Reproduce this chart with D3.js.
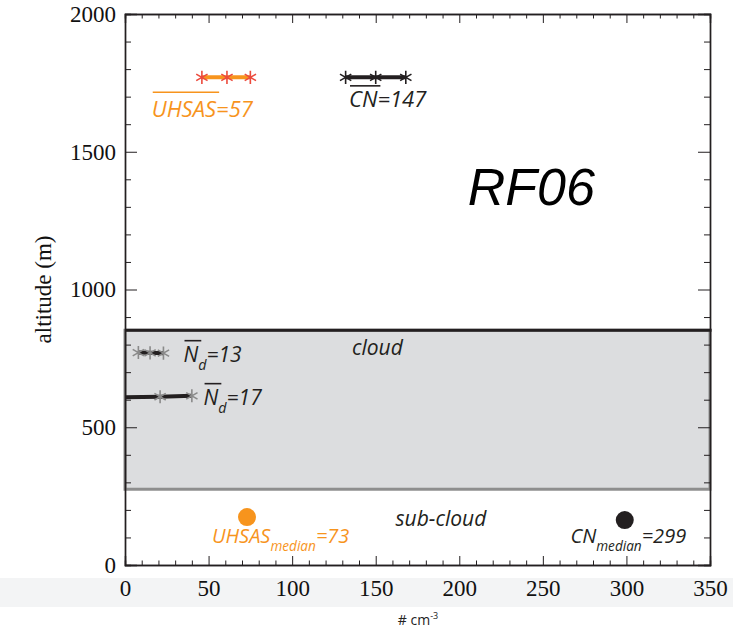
<!DOCTYPE html>
<html>
<head>
<meta charset="utf-8">
<script src="https://cdn.jsdelivr.net/npm/d3@7"></script>
<style>
  html, body { margin: 0; padding: 0; background: #ffffff; }
  svg { display: block; }
</style>
</head>
<body>
<svg id="chart" width="733" height="636"></svg>
<script>
// RF06 vertical profile: aerosol / droplet number concentrations vs altitude
const xDomain = [0, 350];
const yDomain = [0, 2000];
const xMajorTicks = [0, 50, 100, 150, 200, 250, 300, 350];
const yMajorTicks = [0, 500, 1000, 1500, 2000];

// cloud layer bounds (m)
const cloudLayer = [275, 852];

// above-cloud UHSAS profile (# cm^-3, m)
const uhsasConc = [46, 61, 75];
const uhsasAlt = [1770, 1770, 1770];

// above-cloud CN profile
const cnConc = [132, 150, 168];
const cnAlt = [1770, 1770, 1770];

// in-cloud droplet number profiles
const nd13Conc = [8, 15, 23];
const nd13Alt = [771, 770, 769];
const nd17Conc = [-4, 21, 40];
const nd17Alt = [608, 611, 614];

// sub-cloud medians
const uhsasMedian = 73, uhsasMedianAlt = 174;
const cnMedian = 299, cnMedianAlt = 163;

const svg = d3.select("#chart");
const margin = { left: 125, right: 23, top: 14, bottom: 71 };
const W = 733, H = 636;
const x = d3.scaleLinear().domain(xDomain).range([margin.left, W - margin.right]);
const y = d3.scaleLinear().domain(yDomain).range([H - margin.bottom, margin.top]);

const orange = "#f7941d", starRed = "#ec4a3c", ink = "#231f20";
const italFont = "'Open Sans', 'Noto Sans', sans-serif";
const serifFont = "'Liberation Serif', 'DejaVu Serif', serif";

svg.append("defs").append("clipPath").attr("id", "plot-clip")
  .append("rect").attr("x", x(0)).attr("y", y(2000))
  .attr("width", x(350) - x(0)).attr("height", y(0) - y(2000));

// light band behind the x tick labels
svg.append("rect").attr("x", 0).attr("y", 578).attr("width", W).attr("height", 29)
  .attr("fill", "#f3f4f5");

// cloud layer box
svg.append("rect")
  .attr("x", x(0)).attr("y", y(cloudLayer[1]))
  .attr("width", x(350) - x(0)).attr("height", y(cloudLayer[0]) - y(cloudLayer[1]))
  .attr("fill", "#dcdddf").attr("stroke", "#8e8e8e").attr("stroke-width", 3);
svg.append("line")
  .attr("x1", x(0)).attr("x2", x(350) + 1.5)
  .attr("y1", y(cloudLayer[1])).attr("y2", y(cloudLayer[1]))
  .attr("stroke", ink).attr("stroke-width", 3);

// axes with inward ticks
const xMinor = d3.range(0, 351, 10).filter(v => v % 50 !== 0);
const yMinor = d3.range(0, 2001, 100).filter(v => v % 500 !== 0);
const axisStyle = g => {
  g.select(".domain").attr("stroke", ink).attr("stroke-width", 1.4);
  g.selectAll(".tick line").attr("stroke", ink).attr("stroke-width", 1);
  g.selectAll("text").attr("fill", "#111").attr("font-family", serifFont).attr("font-size", 23);
};

svg.append("g").attr("transform", `translate(0,${y(0)})`)
  .call(d3.axisBottom(x).tickValues(xMajorTicks).tickSize(-9).tickPadding(15).tickFormat(d3.format("d")))
  .call(axisStyle);
svg.append("g").attr("transform", `translate(0,${y(0)})`)
  .call(d3.axisBottom(x).tickValues(xMinor).tickSize(-4.5).tickFormat(""))
  .call(axisStyle);
svg.append("g").attr("transform", `translate(0,${y(2000)})`)
  .call(d3.axisTop(x).tickValues(xMajorTicks).tickSize(-9).tickFormat(""))
  .call(axisStyle);
svg.append("g").attr("transform", `translate(0,${y(2000)})`)
  .call(d3.axisTop(x).tickValues(xMinor).tickSize(-4.5).tickFormat(""))
  .call(axisStyle);

svg.append("g").attr("transform", `translate(${x(0)},0)`)
  .call(d3.axisLeft(y).tickValues(yMajorTicks).tickSize(-12).tickPadding(9).tickFormat(d3.format("d")))
  .call(axisStyle);
svg.append("g").attr("transform", `translate(${x(0)},0)`)
  .call(d3.axisLeft(y).tickValues(yMinor).tickSize(-6).tickFormat(""))
  .call(axisStyle);
svg.append("g").attr("transform", `translate(${x(350)},0)`)
  .call(d3.axisRight(y).tickValues(yMajorTicks).tickSize(-12).tickFormat(""))
  .call(axisStyle);
svg.append("g").attr("transform", `translate(${x(350)},0)`)
  .call(d3.axisRight(y).tickValues(yMinor).tickSize(-6).tickFormat(""))
  .call(axisStyle);

// axis titles
svg.append("text")
  .attr("transform", `translate(51,${(y(0) + y(2000)) / 2}) rotate(-90)`)
  .attr("text-anchor", "middle")
  .attr("font-family", serifFont).attr("font-size", 23)
  .attr("fill", "#111").text("altitude (m)");
const xt = svg.append("text").attr("x", 418).attr("y", 625).attr("text-anchor", "middle")
  .attr("font-family", italFont).attr("font-size", 14).attr("fill", "#222");
xt.append("tspan").text("# cm");
xt.append("tspan").attr("dy", -6).attr("font-size", 9).text("-3");

// profile lines with asterisk markers
const plot = svg.append("g").attr("clip-path", "url(#plot-clip)");
const line = d3.line().x(d => x(d[0])).y(d => y(d[1]));
const star = d3.symbol().type(d3.symbolAsterisk).size(120);
function profile(conc, alt, lineColor, starColor) {
  const pts = conc.map((c, i) => [c, alt[i]]);
  plot.append("path").datum(pts).attr("d", line)
    .attr("fill", "none").attr("stroke", lineColor).attr("stroke-width", 4);
  plot.append("g").selectAll("path").data(pts).join("path")
    .attr("transform", d => `translate(${x(d[0])},${y(d[1])})`)
    .attr("d", star).attr("fill", "none").attr("stroke", starColor).attr("stroke-width", 1.6);
}
profile(uhsasConc, uhsasAlt, orange, starRed);
profile(cnConc, cnAlt, ink, ink);
profile(nd13Conc, nd13Alt, ink, "#8a8a8a");
profile(nd17Conc, nd17Alt, ink, "#8a8a8a");

// sub-cloud median dots
svg.append("circle").attr("cx", x(uhsasMedian)).attr("cy", y(uhsasMedianAlt)).attr("r", 9).attr("fill", orange);
svg.append("circle").attr("cx", x(cnMedian)).attr("cy", y(cnMedianAlt)).attr("r", 9).attr("fill", ink);

// annotation helper: italic text with optional overline over the first n characters
function label(px, py, parts, color, size, overN, overRise, family) {
  const t = svg.append("text").attr("x", px).attr("y", py)
    .attr("font-family", family || italFont).attr("font-style", "italic")
    .attr("fill", color).attr("font-size", size);
  parts.forEach(p => {
    const s = t.append("tspan").text(p.text);
    if (p.sub) s.attr("font-size", size * 0.68).attr("dy", 8);
    if (p.back) s.attr("dy", -8);
  });
  if (overN) {
    const w = t.node().getSubStringLength(0, overN);
    svg.append("line")
      .attr("x1", px + 1).attr("x2", px + w + 3)
      .attr("y1", py - overRise).attr("y2", py - overRise)
      .attr("stroke", color).attr("stroke-width", 1.6);
  }
  return t;
}

label(x(16), y(1625), [{ text: "UHSAS=57" }], orange, 22, 5, 25);
label(x(134), y(1663), [{ text: "CN=147" }], ink, 22, 2, 21);
label(x(205), y(1307), [{ text: "RF06" }], "#000", 52, 0, 0, "'Liberation Sans', Arial, sans-serif");
label(x(151), y(762), [{ text: "cloud" }], ink, 21, 0, 0).attr("text-anchor", "middle");
label(x(35), y(738), [{ text: "N" }, { text: "d", sub: true }, { text: "=13", back: true }], ink, 21, 1, 21);
label(x(47), y(582), [{ text: "N" }, { text: "d", sub: true }, { text: "=17", back: true }], ink, 21, 1, 21);
label(x(189), y(142), [{ text: "sub-cloud" }], ink, 21, 0, 0).attr("text-anchor", "middle");
label(x(52), y(80), [{ text: "UHSAS" }, { text: "median", sub: true }, { text: "=73", back: true }], orange, 20, 0, 0);
label(x(266.5), y(80), [{ text: "CN" }, { text: "median", sub: true }, { text: "=299", back: true }], ink, 20, 0, 0);
</script>
</body>
</html>
